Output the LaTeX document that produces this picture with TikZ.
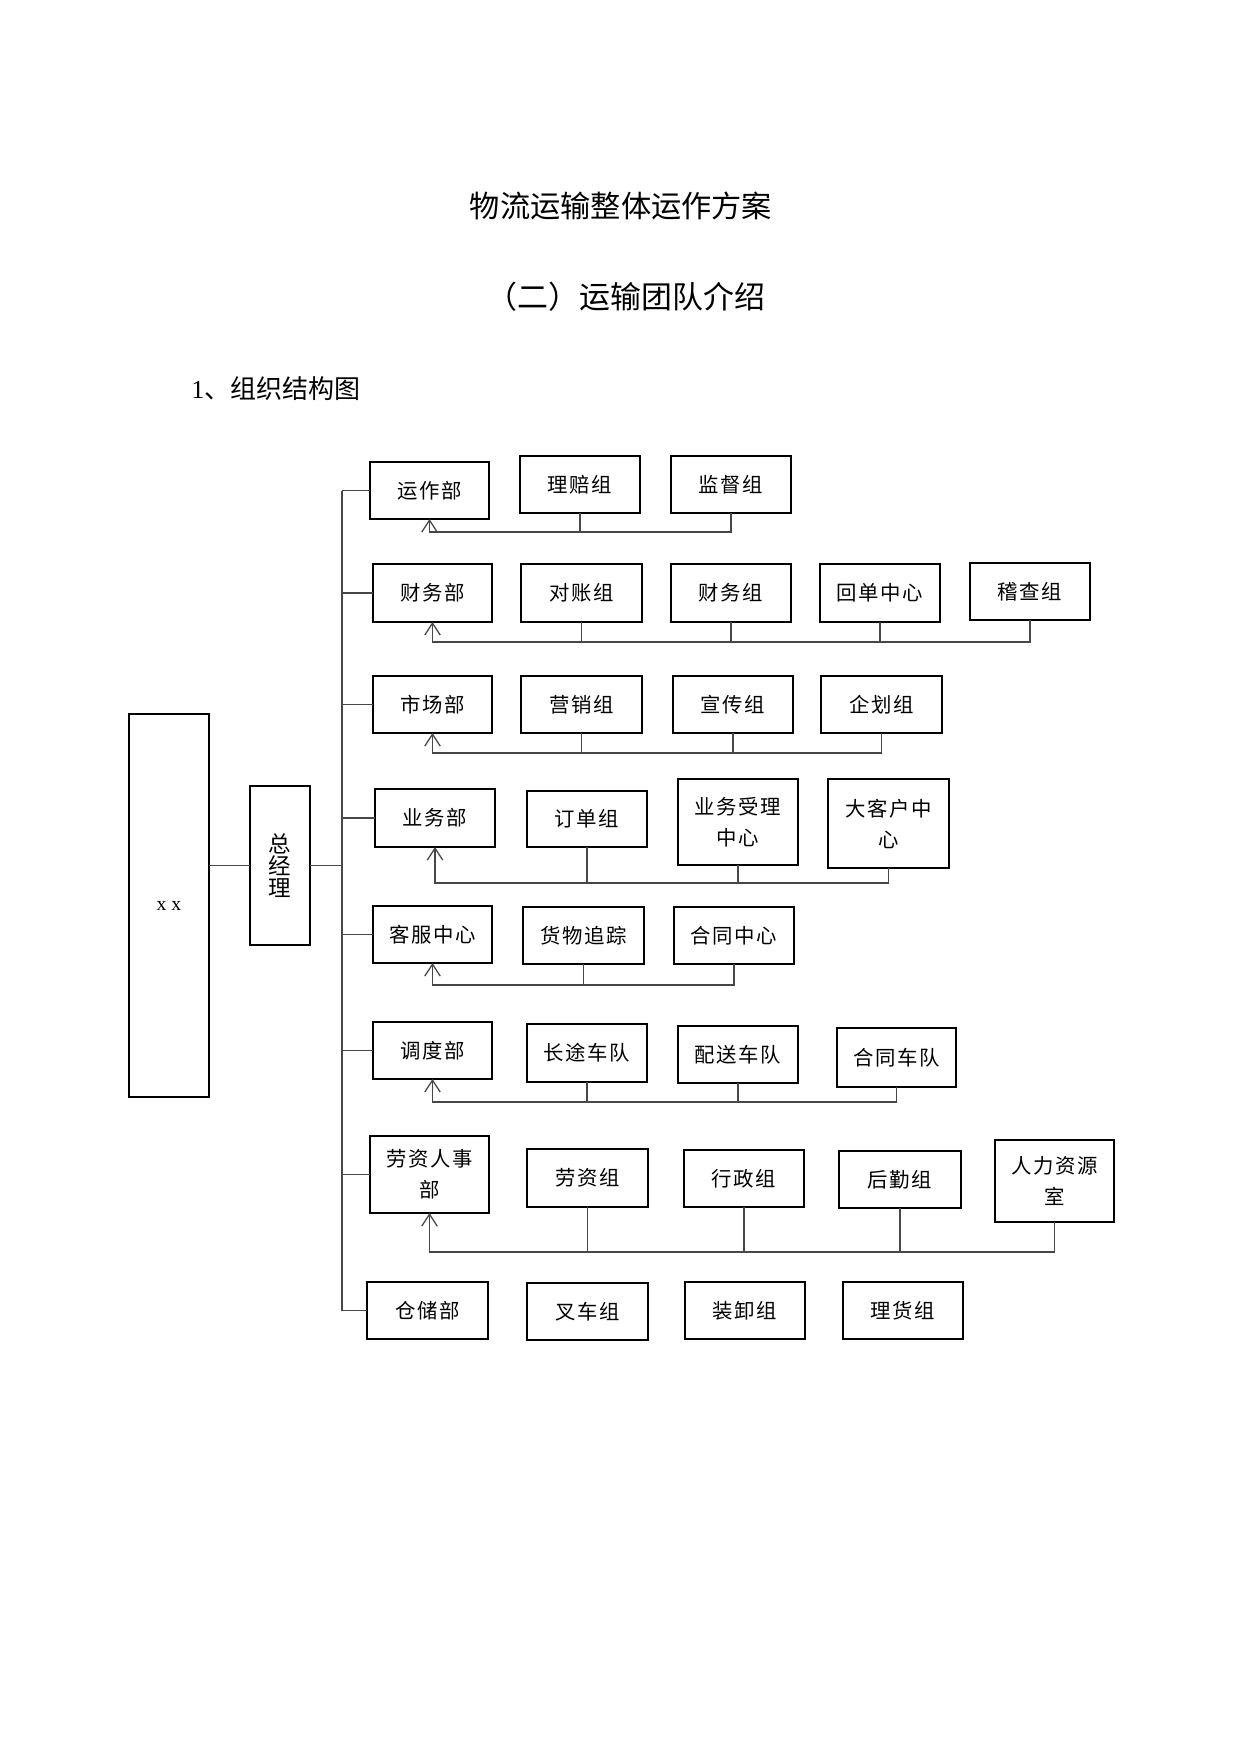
\documentclass[tikz,border=0pt]{standalone}
\usepackage{fontspec}
\newfontfamily\cjk{Noto Sans CJK SC}
\newfontfamily\cjkbox[LetterSpace=8]{Noto Sans CJK SC}
\newfontfamily\lserif{Liberation Serif}
\usetikzlibrary{arrows.meta}
\tikzset{
  box/.style={draw=black, line width=1.1pt, inner sep=0pt, outer sep=0pt, align=center,
    font=\cjkbox\fontsize{14.5pt}{22pt}\selectfont},
  conn/.style={draw=black!72, line width=0.9pt},
  uparrow/.style={conn, -{Straight Barb[length=8.5pt,width=11pt]}},
  titletext/.style={font=\cjk\fontsize{21.5pt}{26pt}\selectfont, inner sep=0pt},
}
\newcommand\orgbox[6]{\node[box, minimum width={(#4-#2)*0.025cm}, minimum height={(#5-#3)*0.025cm}] (#1) at ({(#2+#4)/2},{(#3+#5)/2}) {#6};}
\begin{document}
\begin{tikzpicture}[x=0.025cm, y=-0.025cm]
\fill[white] (0,0) rectangle (1240,1754);
\useasboundingbox (0,0) rectangle (1240,1754);

% headings
\node[titletext] (title) at (621,206) {物流运输整体运作方案};
\node[titletext, font=\cjk\fontsize{22pt}{26pt}\selectfont] (subtitle) at (626,297) {（二）运输团队介绍};
\node[anchor=west, inner sep=0pt, font=\cjk\fontsize{18.5pt}{22pt}\selectfont] (heading) at (191,389) {{\lserif 1}、组织结构图};

% left boxes
\orgbox{xx}{129}{714}{209}{1097}{\lserif\fontsize{14pt}{16pt}\selectfont x x}
\node[box, minimum width={60*0.025cm}, minimum height={159*0.025cm}, font=\cjk\fontsize{16pt}{15.5pt}\selectfont] (zjl) at (280,865.5) {总\\经\\理};

% row 1
\orgbox{yzb}{370}{462}{489}{519}{运作部}
\orgbox{lpz}{520}{456}{640}{513}{理赔组}
\orgbox{jdz}{671}{456}{791}{513}{监督组}
% row 2
\orgbox{cwb}{373}{564}{492}{622}{财务部}
\orgbox{dzz}{521}{564}{642}{622}{对账组}
\orgbox{cwz}{671}{564}{791}{622}{财务组}
\orgbox{hdzx}{820}{564}{940}{622}{回单中心}
\orgbox{jcz}{970}{563}{1090}{620}{稽查组}
% row 3
\orgbox{scb}{373}{676}{492}{733}{市场部}
\orgbox{yxz}{521}{676}{642}{733}{营销组}
\orgbox{xcz}{673}{676}{793}{733}{宣传组}
\orgbox{qhz}{821}{676}{942}{733}{企划组}
% row 4
\orgbox{ywb}{375}{789}{495}{847}{业务部}
\orgbox{ddz}{527}{791}{647}{847}{订单组}
\orgbox{yslzx}{678}{779}{798}{865}{业务受理\\中心}
\orgbox{dkhzx}{828}{779}{949}{868}{大客户中\\心}
% row 5
\orgbox{kfzx}{373}{906}{492}{963}{客服中心}
\orgbox{hwzz}{523}{907}{644}{964}{货物追踪}
\orgbox{htzx}{674}{907}{794}{964}{合同中心}
% row 6
\orgbox{ddb}{373}{1022}{492}{1079}{调度部}
\orgbox{ctcd}{527}{1024}{647}{1082}{长途车队}
\orgbox{pscd}{678}{1026}{798}{1083}{配送车队}
\orgbox{htcd}{837}{1028}{956}{1087}{合同车队}
% row 7
\orgbox{lzrsb}{370}{1136}{489}{1213}{劳资人事\\部}
\orgbox{lzz}{527}{1149}{648}{1207}{劳资组}
\orgbox{xzz}{684}{1150}{804}{1207}{行政组}
\orgbox{hqz}{839}{1151}{961}{1208}{后勤组}
\orgbox{rlzys}{995}{1140}{1114}{1222}{人力资源\\室}
% row 8
\orgbox{ccb}{367}{1282}{488}{1339}{仓储部}
\orgbox{ccz}{527}{1283}{648}{1340}{叉车组}
\orgbox{zxz}{685}{1282}{805}{1339}{装卸组}
\orgbox{lhz}{843}{1282}{963}{1339}{理货组}

% bus levels
\coordinate (bus1) at (0,532);
\coordinate (bus2) at (0,642);
\coordinate (bus3) at (0,753);
\coordinate (bus4) at (0,883);
\coordinate (bus5) at (0,985);
\coordinate (bus6) at (0,1102);
\coordinate (bus7) at (0,1252);
\coordinate (trk) at (342,0);

% trunk and stubs
\draw[conn] (trk |- yzb.west) -- (trk |- ccb.west);
\foreach \n in {yzb,cwb,scb,ywb,kfzx,ddb,lzrsb,ccb}
  \draw[conn] (trk |- \n.west) -- (\n.west);
\draw[conn] (zjl.east) -- (zjl.east -| trk);
\draw[conn] (zjl.west -| xx.east) -- (zjl.west);

% row buses
\draw[uparrow] (jdz.south) |- (yzb.south |- bus1) -- (yzb.south);
\draw[conn] (lpz.south) -- (lpz.south |- bus1);

\draw[uparrow] (jcz.south) |- (cwb.south |- bus2) -- (cwb.south);
\foreach \n in {dzz,cwz,hdzx} \draw[conn] (\n.south) -- (\n.south |- bus2);

\draw[uparrow] (qhz.south) |- (scb.south |- bus3) -- (scb.south);
\foreach \n in {yxz,xcz} \draw[conn] (\n.south) -- (\n.south |- bus3);

\draw[uparrow] (dkhzx.south) |- (ywb.south |- bus4) -- (ywb.south);
\foreach \n in {ddz,yslzx} \draw[conn] (\n.south) -- (\n.south |- bus4);

\draw[uparrow] (htzx.south) |- (kfzx.south |- bus5) -- (kfzx.south);
\draw[conn] (hwzz.south) -- (hwzz.south |- bus5);

\draw[uparrow] (htcd.south) |- (ddb.south |- bus6) -- (ddb.south);
\foreach \n in {ctcd,pscd} \draw[conn] (\n.south) -- (\n.south |- bus6);

\draw[uparrow] (rlzys.south) |- (lzrsb.south |- bus7) -- (lzrsb.south);
\foreach \n in {lzz,xzz,hqz} \draw[conn] (\n.south) -- (\n.south |- bus7);
\end{tikzpicture}
\end{document}
